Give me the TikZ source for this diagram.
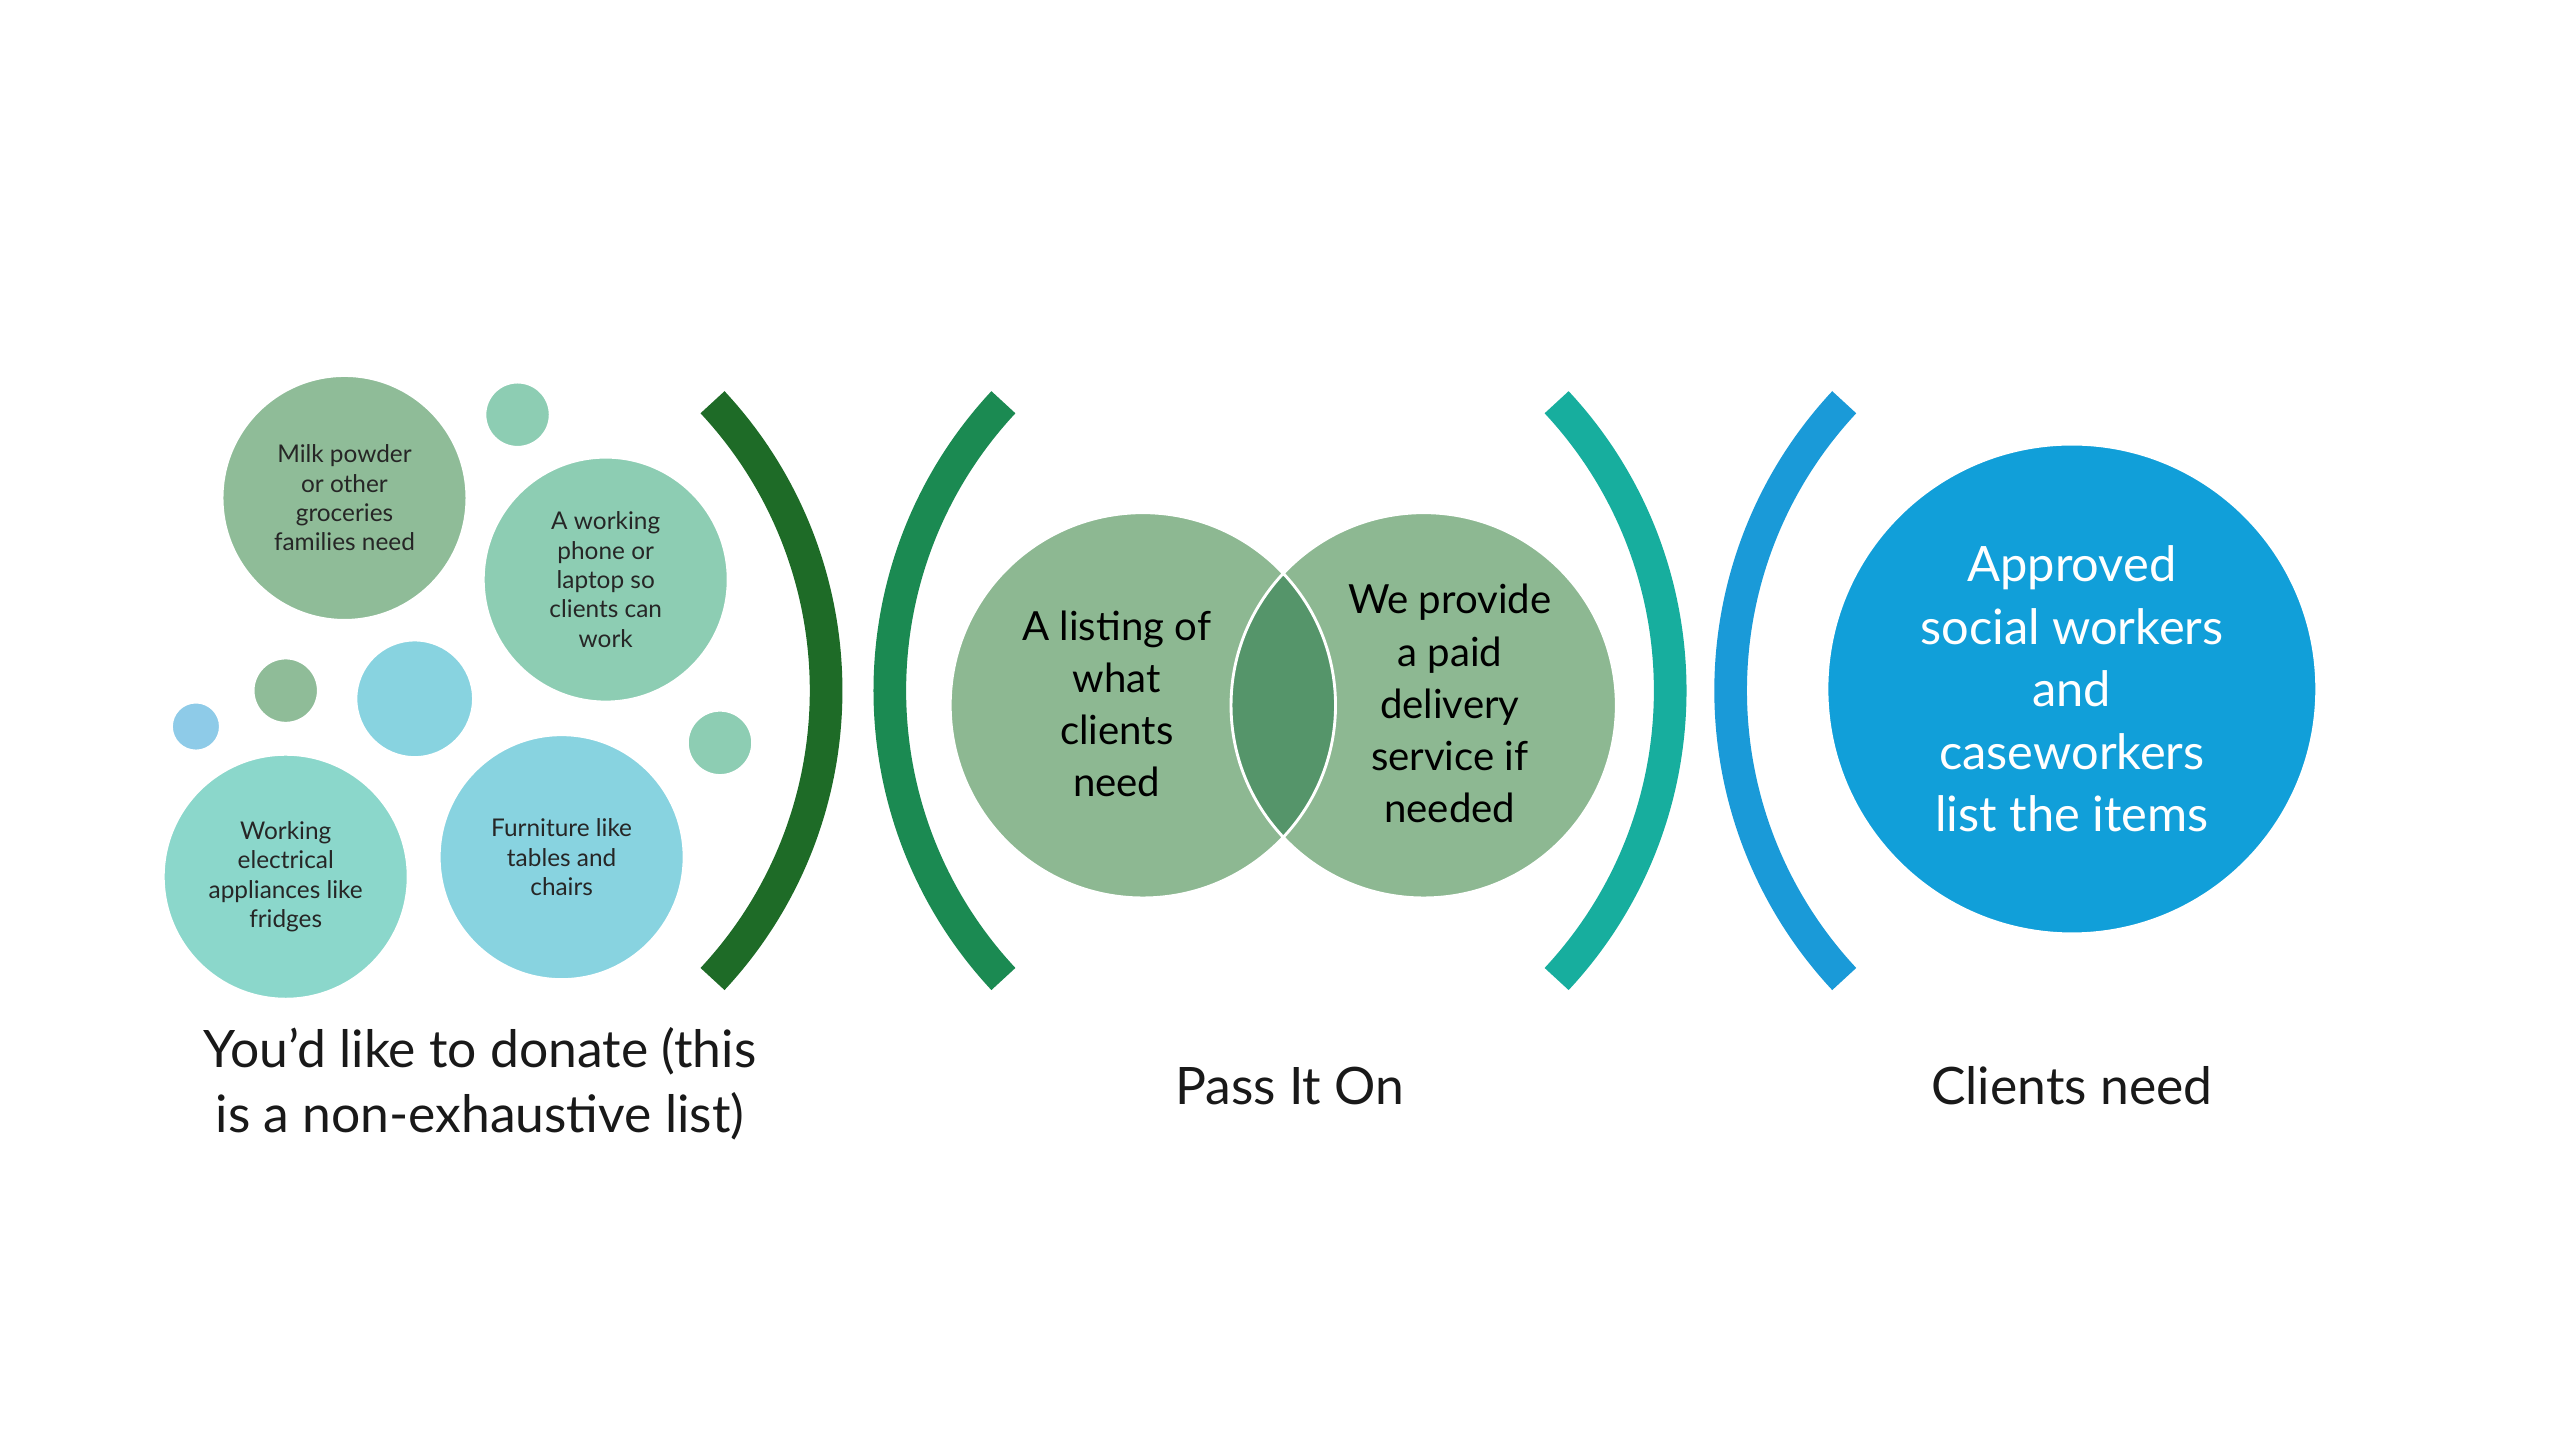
\documentclass[tikz,border=0pt]{standalone}
\usepackage{fontspec}
\setmainfont{Lato}
\begin{document}
\begin{tikzpicture}[x=0.02cm,y=-0.02cm,
  bub/.style={circle,draw=white,line width=1pt,inner sep=0pt,align=center,text=black!85},
  small/.style={font=\fontsize{8.5}{10.2}\selectfont},
  mid/.style={font=\fontsize{14}{18.2}\selectfont},
  big/.style={font=\fontsize{17}{21.8}\selectfont},
  lab/.style={font=\fontsize{18}{22.7}\selectfont,align=center,text=black!90},
  arcb/.style={line width=0.4cm}]
\useasboundingbox (0,0) rectangle (1568,882);
\definecolor{g1}{HTML}{8FBC98}\definecolor{g2}{HTML}{8DCDB3}\definecolor{g3}{HTML}{8BD7CB}
\definecolor{b1}{HTML}{88D3E0}\definecolor{b2}{HTML}{8ECBE8}\definecolor{vg}{HTML}{8DB892}
\definecolor{vo}{HTML}{55956A}\definecolor{a1}{HTML}{1E6B27}\definecolor{a2}{HTML}{1B8A52}
\definecolor{a3}{HTML}{17AE9E}\definecolor{a4}{HTML}{1A9AD8}\definecolor{bc}{HTML}{119FD9}
% bubbles
\node[bub,fill=g1,minimum size=150*0.02cm,small] (milk) at (211,305) {Milk powder\\or other\\groceries\\families need};
\node[bub,fill=g2,minimum size=40*0.02cm] (s1) at (317,254) {};
\node[bub,fill=g2,minimum size=150*0.02cm,small] (phone) at (371,355) {A working\\phone or\\laptop so\\clients can\\work};
\node[bub,fill=g1,minimum size=40*0.02cm] (s2) at (175,423) {};
\node[bub,fill=b1,minimum size=72*0.02cm] (s3) at (254,428) {};
\node[bub,fill=b2,minimum size=30*0.02cm] (s4) at (120,445) {};
\node[bub,fill=g2,minimum size=40*0.02cm] (s5) at (441,455) {};
\node[bub,fill=g3,minimum size=150*0.02cm,small] (elec) at (175,537) {Working\\electrical\\appliances like\\fridges};
\node[bub,fill=b1,minimum size=150*0.02cm,small] (furn) at (344,525) {Furniture like\\tables and\\chairs};
% arcs
\draw[arcb,draw=a1] (247,423) ++(-43:259) arc[start angle=-43,end angle=43,radius=259];
\draw[arcb,draw=a2] (804,423) ++(137:259) arc[start angle=137,end angle=223,radius=259];
\draw[arcb,draw=a3] (764,423) ++(-43:259) arc[start angle=-43,end angle=43,radius=259];
\draw[arcb,draw=a4] (1319,423) ++(137:259) arc[start angle=137,end angle=223,radius=259];
% venn
\fill[vg] (700,432) circle[radius=118];
\fill[vg] (872,432) circle[radius=118];
\begin{scope}\clip (700,432) circle[radius=118];\fill[vo] (872,432) circle[radius=118];\end{scope}
\draw[white,line width=1pt] (700,432) circle[radius=118] (872,432) circle[radius=118];
\node[align=center,mid] (v1) at (684,431) {A listing of\\what\\clients\\need};
\node[align=center,mid] (v2) at (888,431) {We provide\\a paid\\delivery\\service if\\needed};
% big circle
\node[bub,fill=bc,minimum size=300*0.02cm,big,text=white] (cl) at (1269,422) {Approved\\social workers\\and\\caseworkers\\list the items};
% labels
\node[lab] (l1) at (294,664) {You’d like to donate (this\\is a non-exhaustive list)};
\node[lab] (l2) at (790,665) {Pass It On};
\node[lab] (l3) at (1269,665) {Clients need};
\end{tikzpicture}
\end{document}
